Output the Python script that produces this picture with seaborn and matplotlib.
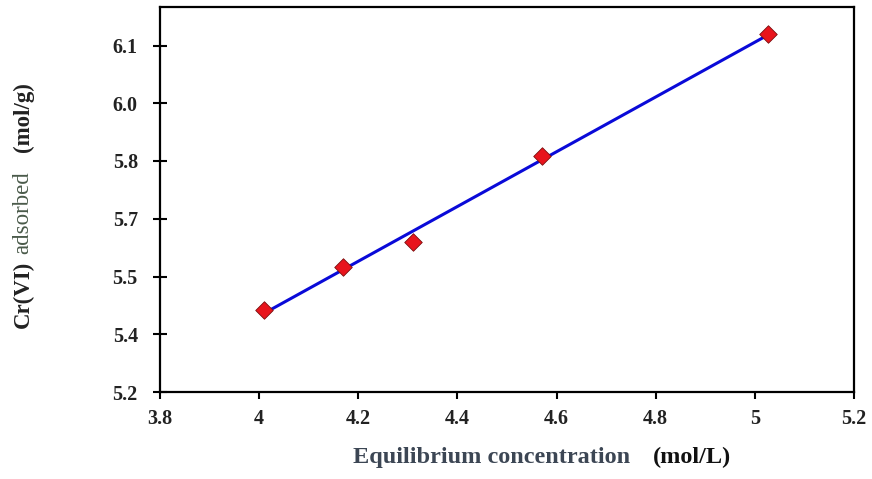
import matplotlib
matplotlib.use("Agg")
import matplotlib.pyplot as plt
import seaborn as sns
import pandas as pd

# Data
conc = [4.010, 4.169, 4.310, 4.571, 5.027]
adsorbed = [5.413, 5.525, 5.590, 5.814, 6.129]
x_ticks = [3.8, 4.0, 4.2, 4.4, 4.6, 4.8, 5.0, 5.2]
x_tick_labels = ["3.8", "4", "4.2", "4.4", "4.6", "4.8", "5", "5.2"]
y_ticks = [5.2, 5.35, 5.5, 5.65, 5.8, 5.95, 6.1]
y_tick_labels = ["5.2", "5.4", "5.5", "5.7", "5.8", "6.0", "6.1"]

df = pd.DataFrame({"conc": conc, "adsorbed": adsorbed})

sns.set_style("ticks")
plt.rcParams["font.family"] = ["Liberation Serif", "DejaVu Serif"]

fig = plt.figure(figsize=(8.72, 4.79), dpi=100)
ax = fig.add_axes([160 / 872, 1 - 392 / 479, (854 - 160) / 872, (392 - 7) / 479])

sns.regplot(data=df, x="conc", y="adsorbed", ax=ax, scatter=False, ci=None,
            line_kws=dict(color="#0a0ad8", lw=2.2, zorder=2))
sns.scatterplot(data=df, x="conc", y="adsorbed", ax=ax, marker="D", s=80,
                color="#e8141c", edgecolor="#7a1010", linewidth=0.6, zorder=3)

ax.set_xlim(3.8, 5.2)
ax.set_ylim(5.2, 6.2)
ax.set_xticks(x_ticks)
ax.set_xticklabels(x_tick_labels)
ax.set_yticks(y_ticks)
ax.set_yticklabels(y_tick_labels)
for s in ax.spines.values():
    s.set_visible(True)
    s.set_linewidth(1.6)
    s.set_color("black")
ax.tick_params(axis="y", direction="inout", length=10, width=1.5, pad=11,
               labelsize=14.5, colors="black")
ax.tick_params(axis="x", direction="out", length=5, width=1.5, pad=7,
               labelsize=14.5, colors="black")
for lab in ax.get_xticklabels() + ax.get_yticklabels():
    lab.set_fontweight("bold")
    lab.set_color("#222222")
ax.set_xlabel("")
ax.set_ylabel("")

# x axis label (two colour pieces)
fig.text(492 / 872, 1 - 457 / 479, "Equilibrium concentration", ha="center", va="center",
         fontsize=17.5, fontweight="bold", color="#3c4654")
fig.text(692 / 872, 1 - 457 / 479, "(mol/L)", ha="center", va="center",
         fontsize=17.5, fontweight="bold", color="#111111")

# y axis label (three pieces, rotated)
fig.text(23 / 872, 1 - 294 / 479, "Cr(VI)", rotation=90, ha="center", va="center",
         fontsize=16.5, fontweight="bold", color="#222222")
fig.text(23 / 872, 1 - 213 / 479, "adsorbed", rotation=90, ha="center", va="center",
         fontsize=16.5, color="#4a5a4a")
fig.text(23 / 872, 1 - 117 / 479, "(mol/g)", rotation=90, ha="center", va="center",
         fontsize=16.5, fontweight="bold", color="#222222")

fig.savefig("out.png", dpi=100)
